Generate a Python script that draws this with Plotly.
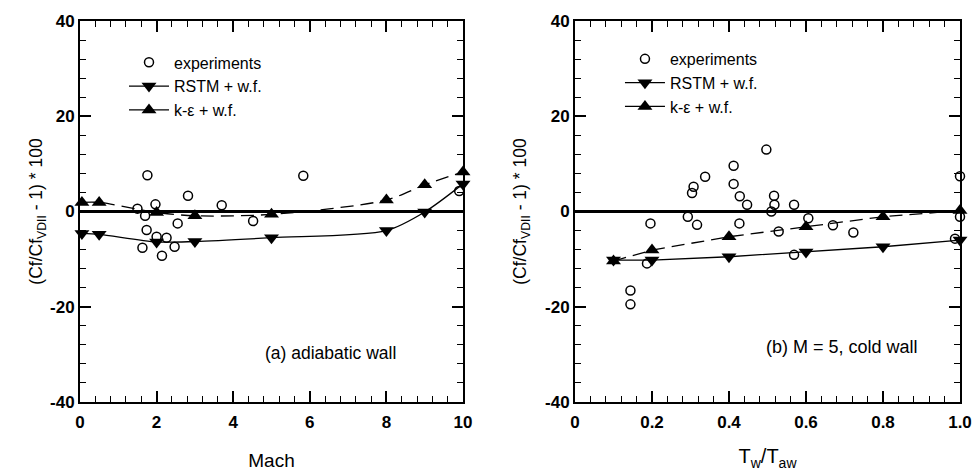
import plotly.graph_objects as go
from plotly.subplots import make_subplots

# ---- Panel (a): adiabatic wall, vs Mach ----
exp_a_x = [1.50, 1.63, 1.70, 1.74, 1.76, 1.97, 2.00, 2.14, 2.26, 2.47, 2.55, 2.82, 3.70, 4.52, 5.83, 9.9]
exp_a_y = [0.6, -7.6, -0.9, -3.9, 7.6, 1.5, -5.3, -9.3, -5.5, -7.4, -2.5, 3.3, 1.3, -2.0, 7.5, 4.3]
rstm_a_x = [0.05, 0.5, 2, 3, 5, 8, 9, 10]
rstm_a_y = [-4.6, -4.8, -6.4, -6.3, -5.5, -4.0, -0.1, 5.8]
ke_a_x = [0.05, 0.5, 2, 3, 5, 8, 9, 10]
ke_a_y = [1.9, 1.9, -0.2, -0.9, -0.6, 2.4, 5.6, 8.3]

# ---- Panel (b): M = 5, cold wall, vs Tw/Taw ----
exp_b_x = [0.144, 0.144, 0.187, 0.196, 0.293, 0.304, 0.308, 0.317, 0.338, 0.412, 0.412, 0.427,
           0.428, 0.447, 0.497, 0.51, 0.517, 0.518, 0.529, 0.569, 0.569, 0.606, 0.670, 0.723,
           0.987, 1.0, 1.0]
exp_b_y = [-16.6, -19.5, -10.9, -2.5, -1.1, 3.9, 5.2, -2.8, 7.3, 9.6, 5.8, -2.5,
           3.2, 1.4, 13.0, 0.0, 3.3, 1.4, -4.2, 1.4, -9.1, -1.4, -2.9, -4.4,
           -5.7, 7.4, -1.1]
rstm_b_x = [0.1, 0.2, 0.4, 0.6, 0.8, 1.0]
rstm_b_y = [-10.2, -10.2, -9.5, -8.5, -7.4, -6.0]
ke_b_x = [0.1, 0.2, 0.4, 0.6, 0.8, 1.0]
ke_b_y = [-10.4, -8.1, -5.3, -3.2, -1.1, 0.2]

legend_names = ["experiments", "RSTM + w.f.", "k-\u03b5 + w.f."]
y_ticks = [-40, -20, 0, 20, 40]
x_ticks_a = [0, 2, 4, 6, 8, 10]
x_ticks_b = [0, 0.2, 0.4, 0.6, 0.8, 1.0]
x_ticklabels_b = ["0", "0.2", "0.4", "0.6", "0.8", "1.0"]

FONT = "Arial, Liberation Sans, Helvetica, sans-serif"

fig = make_subplots(rows=1, cols=2, horizontal_spacing=0.1)

circ = dict(symbol="circle-open", size=9, color="black", line=dict(width=1.5, color="black"))
tri_d = dict(symbol="triangle-down", size=13, color="black")
tri_u = dict(symbol="triangle-up", size=13, color="black")

def add_panel(col, ex, ey, rx, ry, kx, ky, shape, leg):
    fig.add_trace(go.Scatter(x=rx, y=ry, mode="lines+markers", marker=tri_d,
                             line=dict(color="black", width=1.3, shape=shape, smoothing=0.8),
                             showlegend=False, cliponaxis=False), row=1, col=col)
    fig.add_trace(go.Scatter(x=kx, y=ky, mode="lines+markers", marker=tri_u,
                             line=dict(color="black", width=1.3, dash="13px,7px", shape=shape, smoothing=0.8),
                             showlegend=False, cliponaxis=False), row=1, col=col)
    fig.add_trace(go.Scatter(x=ex, y=ey, mode="markers", marker=circ,
                             showlegend=False, cliponaxis=False), row=1, col=col)
    # legend entries
    fig.add_trace(go.Scatter(x=[None], y=[None], mode="markers", marker=circ,
                             name=legend_names[0], legend=leg), row=1, col=col)
    fig.add_trace(go.Scatter(x=[None], y=[None], mode="lines+markers", marker=tri_d,
                             line=dict(color="black", width=1.3),
                             name=legend_names[1], legend=leg), row=1, col=col)
    fig.add_trace(go.Scatter(x=[None], y=[None], mode="lines+markers", marker=tri_u,
                             line=dict(color="black", width=1.3),
                             name=legend_names[2], legend=leg), row=1, col=col)

add_panel(1, exp_a_x, exp_a_y, rstm_a_x, rstm_a_y, ke_a_x, ke_a_y, "spline", "legend")
add_panel(2, exp_b_x, exp_b_y, rstm_b_x, rstm_b_y, ke_b_x, ke_b_y, "linear", "legend2")

axis_common = dict(showline=True, linecolor="black", linewidth=2, mirror="ticks",
                   ticks="inside", ticklen=11, tickwidth=1.5, tickcolor="black",
                   showgrid=False, zeroline=False, automargin=False,
                   tickfont=dict(family=FONT, size=17, color="black", weight="bold"))

ytitle = "(Cf/Cf<sub>VDII</sub> - 1) * 100"
fig.update_xaxes(**axis_common)
fig.update_yaxes(**axis_common)

fig.update_xaxes(range=[0, 10], tickvals=x_ticks_a, ticktext=[str(v) for v in x_ticks_a],
                 minor=dict(dtick=0.4, ticks="inside", ticklen=6, tickwidth=1.2, tickcolor="black"),
                 title=dict(text="Mach", font=dict(family=FONT, size=19, color="black"), standoff=22),
                 ticklabelstandoff=4,
                 domain=[0, 383 / 880], row=1, col=1)
fig.update_xaxes(range=[0, 1], tickvals=x_ticks_b, ticktext=x_ticklabels_b,
                 minor=dict(dtick=0.04, ticks="inside", ticklen=6, tickwidth=1.2, tickcolor="black"),
                 title=dict(text="T<sub>w</sub>/T<sub>aw</sub>", font=dict(family=FONT, size=20, color="black"), standoff=18),
                 ticklabelstandoff=4,
                 domain=[495 / 880, 1.0], row=1, col=2)
for c, so in ((1, 3), (2, 14)):
    fig.update_yaxes(range=[-40, 40], tickvals=y_ticks, ticktext=[str(v) for v in y_ticks],
                     minor=dict(dtick=4, ticks="inside", ticklen=6, tickwidth=1.2, tickcolor="black"),
                     zeroline=True, zerolinecolor="black", zerolinewidth=3,
                     title=dict(text=ytitle, font=dict(family=FONT, size=17.5, color="black"), standoff=so),
                     row=1, col=c)

fig.add_annotation(text="(a) adiabatic wall", xref="x domain", yref="y domain",
                   x=0.655, y=0.129, xanchor="center", yanchor="middle", showarrow=False,
                   font=dict(family=FONT, size=17.5, color="black"))
fig.add_annotation(text="(b) M = 5, cold wall", xref="x2 domain", yref="y2 domain",
                   x=0.694, y=0.144, xanchor="center", yanchor="middle", showarrow=False,
                   font=dict(family=FONT, size=18, color="black"))

leg_common = dict(bgcolor="rgba(0,0,0,0)", borderwidth=0,
                  font=dict(family=FONT, size=16, color="black"),
                  xanchor="left", yanchor="top", tracegroupgap=0, itemwidth=40)
fig.update_layout(
    width=973, height=472,
    margin=dict(l=80, r=13, t=21, b=70),
    paper_bgcolor="white", plot_bgcolor="white",
    legend=dict(x=0.05, y=0.936, **leg_common),
    legend2=dict(x=0.6136, y=0.945, **leg_common),
)

fig.write_html("out.html", config={"displayModeBar": False},
               post_script="document.body.style.margin='0';document.body.style.overflow='hidden';")
